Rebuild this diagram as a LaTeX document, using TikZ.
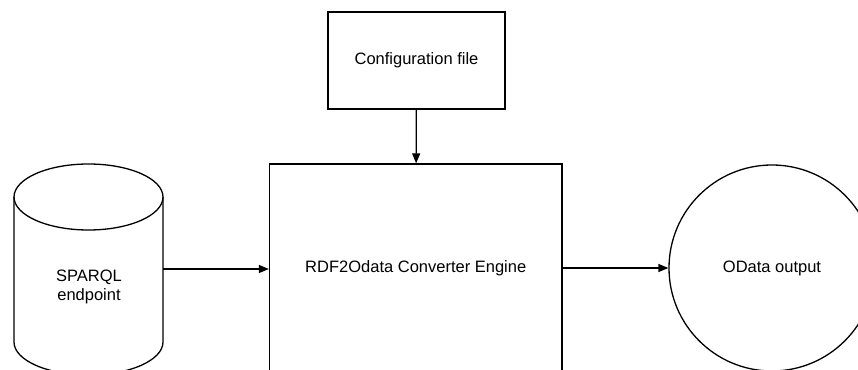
\documentclass[tikz,border=0pt]{standalone}
\usepackage{fontspec}
\setmainfont{Liberation Sans}
\usetikzlibrary{arrows.meta}
\tikzset{
  box/.style={draw, rectangle, line width=1.3pt, inner sep=0pt, align=center},
  link/.style={line width=1.3pt, -{Triangle[length=10pt,width=8pt]}}
}
\begin{document}
\begin{tikzpicture}[x=1pt,y=1pt,line width=1.3pt,font=\fontsize{16.5}{19.5}\selectfont]
\useasboundingbox (0,0) rectangle (858,369);
\clip (0,0) rectangle (858,369); % picture is cut at the edges
\node[box, minimum width=177pt, minimum height=97pt] (config) at (416.5,308.5) {Configuration file};
\node[box, minimum width=292.5pt, minimum height=208pt] (engine) at (415.75,101) {RDF2Odata Converter Engine};
\node[draw, circle, inner sep=0pt, minimum size=206pt] (odata) at (772,101) {OData output};
% cylinder for the endpoint
\draw (88.5,172) ellipse[x radius=74.5, y radius=33];
\draw (14,172) -- (14,27) arc[start angle=180, end angle=360, x radius=74.5, y radius=33] -- (163,172);
\node[align=center] (sparql) at (89,82) {SPARQL\\endpoint};
\coordinate (sparqlout) at (163,100);
\draw[link] (config) -- (engine);
\draw[link] (sparqlout) -- (sparqlout -| engine.west);
\draw[link] (engine.east) -- (odata.west);
\end{tikzpicture}
\end{document}
